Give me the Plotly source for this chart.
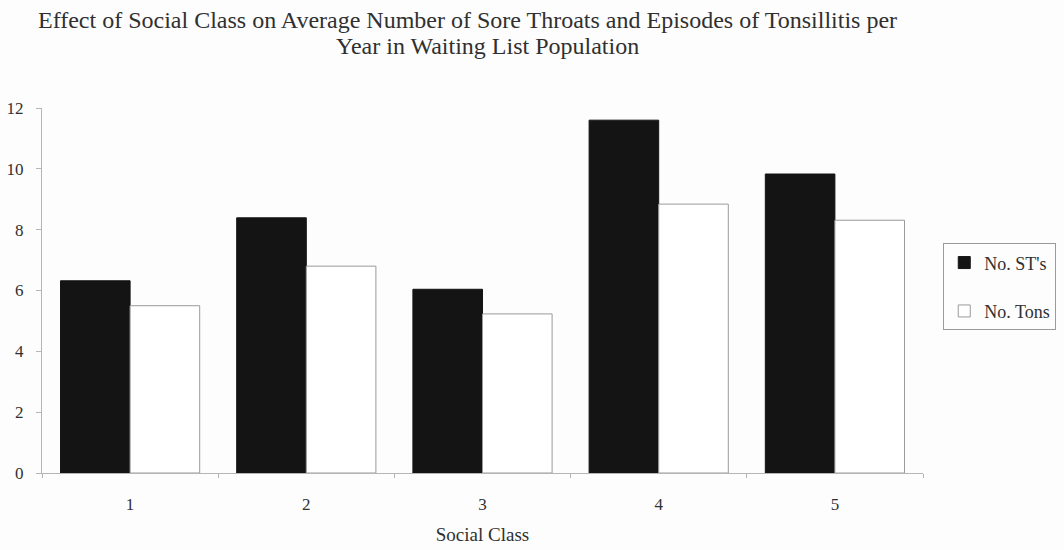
import plotly.graph_objects as go

# Average episodes per year by social class
social_class = ["1", "2", "3", "4", "5"]
sore_throats = [6.32, 8.39, 6.04, 11.60, 9.83]   # No. ST's
tonsillitis = [5.50, 6.80, 5.23, 8.84, 8.31]     # No. Tons
y_ticks = [0, 2, 4, 6, 8, 10, 12]
title_lines = [
    "Effect of Social Class on Average Number of Sore Throats and Episodes of Tonsillitis per",
    "Year in Waiting List Population",
]

FONT = "Liberation Serif, Times New Roman, serif"
TEXT = "#303030"
AXIS = "#b5b5b5"

fig = go.Figure()
fig.add_trace(go.Bar(
    x=social_class, y=sore_throats, name="No. ST's",
    legendgroup="st",
    marker=dict(color="#141414", line=dict(color="#141414", width=1)),
))
fig.add_trace(go.Bar(
    x=social_class, y=tonsillitis, name="No. Tons",
    legendgroup="tons",
    marker=dict(color="#ffffff", line=dict(color="#9a9a9a", width=1)),
))

# two-line heading, each line placed on its own
fig.add_annotation(text=title_lines[0], xref="paper", yref="paper",
                   x=0.4835, y=1.241, xanchor="center", yanchor="middle",
                   showarrow=False, font=dict(family=FONT, size=24, color=TEXT))
fig.add_annotation(text=title_lines[1], xref="paper", yref="paper",
                   x=0.506, y=1.170, xanchor="center", yanchor="middle",
                   showarrow=False, font=dict(family=FONT, size=24, color=TEXT))

fig.update_layout(
    width=1064, height=550,
    margin=dict(l=42, r=141, t=108, b=77, autoexpand=False),
    paper_bgcolor="#fdfdfd", plot_bgcolor="#fdfdfd",
    font=dict(family=FONT, color=TEXT, size=17),
    barmode="group", bargap=0.21, bargroupgap=0,
    legend=dict(
        x=1.023, xanchor="left", y=0.51, yanchor="middle",
        bordercolor="#9a9a9a", borderwidth=1, bgcolor="#fdfdfd",
        font=dict(family=FONT, size=18, color=TEXT),
        traceorder="grouped", tracegroupgap=22,
    ),
    showlegend=True,
)

fig.update_xaxes(
    type="category", tickson="boundaries", automargin=False,
    showline=True, linecolor=AXIS, linewidth=1,
    ticks="outside", ticklen=4, tickcolor=AXIS,
    ticklabelstandoff=16,
    showgrid=False, zeroline=False,
    title=dict(text="Social Class", font=dict(family=FONT, size=19, color=TEXT), standoff=14),
    tickfont=dict(family=FONT, size=17, color=TEXT),
)
fig.update_yaxes(
    range=[0, 12], tickvals=y_ticks, automargin=False,
    showline=True, linecolor=AXIS, linewidth=1,
    ticks="outside", ticklen=5, tickcolor=AXIS,
    ticklabelstandoff=9,
    showgrid=False, zeroline=False,
    tickfont=dict(family=FONT, size=17, color=TEXT),
)

fig.write_html("out.html")
